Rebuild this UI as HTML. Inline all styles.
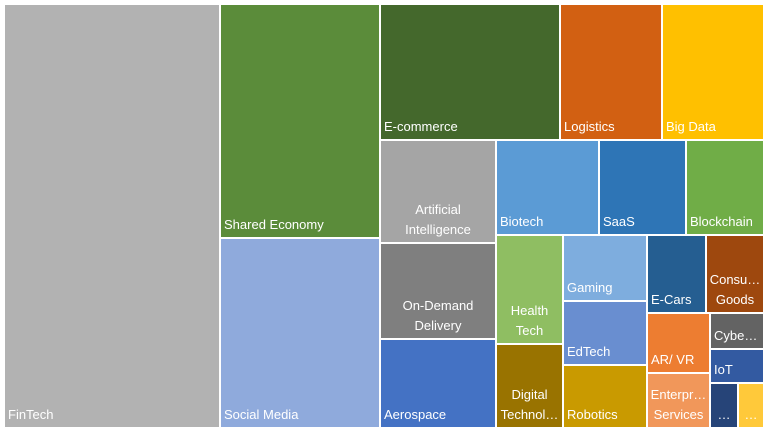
<!DOCTYPE html>
<html><head><meta charset="utf-8"><style>
body{margin:0;width:768px;height:432px;background:#fff;position:relative;overflow:hidden;font-family:"Liberation Sans","Noto Sans CJK JP",sans-serif}
.r{position:absolute;color:#fff;font-size:13px;box-sizing:border-box}
.l{position:absolute;left:3px;bottom:2px;line-height:20px;white-space:nowrap}
.c{position:absolute;left:0;right:0;bottom:2px;text-align:center;line-height:20px;white-space:nowrap}
</style></head><body>
<div class="r" style="left:5px;top:5px;width:214px;height:422px;background:#b2b2b2"><span class="l">FinTech</span></div>
<div class="r" style="left:221px;top:5px;width:158px;height:232px;background:#5b8c3a"><span class="l">Shared Economy</span></div>
<div class="r" style="left:221px;top:239px;width:158px;height:188px;background:#8faadc"><span class="l">Social Media</span></div>
<div class="r" style="left:381px;top:5px;width:178px;height:134px;background:#44682c"><span class="l">E-commerce</span></div>
<div class="r" style="left:561px;top:5px;width:100px;height:134px;background:#d26012"><span class="l">Logistics</span></div>
<div class="r" style="left:663px;top:5px;width:100px;height:134px;background:#ffc000"><span class="l">Big Data</span></div>
<div class="r" style="left:381px;top:141px;width:114px;height:101px;background:#a5a5a5"><span class="c">Artificial<br>Intelligence</span></div>
<div class="r" style="left:381px;top:244px;width:114px;height:94px;background:#7f7f7f"><span class="c">On-Demand<br>Delivery</span></div>
<div class="r" style="left:381px;top:340px;width:114px;height:87px;background:#4472c4"><span class="l">Aerospace</span></div>
<div class="r" style="left:497px;top:141px;width:101px;height:93px;background:#5b9bd5"><span class="l">Biotech</span></div>
<div class="r" style="left:600px;top:141px;width:85px;height:93px;background:#2e75b6"><span class="l">SaaS</span></div>
<div class="r" style="left:687px;top:141px;width:76px;height:93px;background:#70ad47"><span class="l">Blockchain</span></div>
<div class="r" style="left:497px;top:236px;width:65px;height:107px;background:#8fbe62"><span class="c">Health<br>Tech</span></div>
<div class="r" style="left:497px;top:345px;width:65px;height:82px;background:#997300"><span class="c">Digital<br>Technol…</span></div>
<div class="r" style="left:564px;top:236px;width:82px;height:64px;background:#7eadde"><span class="l">Gaming</span></div>
<div class="r" style="left:564px;top:302px;width:82px;height:62px;background:#698ed0"><span class="l">EdTech</span></div>
<div class="r" style="left:564px;top:366px;width:82px;height:61px;background:#c99a00"><span class="l">Robotics</span></div>
<div class="r" style="left:648px;top:236px;width:57px;height:76px;background:#255e91"><span class="l">E-Cars</span></div>
<div class="r" style="left:707px;top:236px;width:56px;height:76px;background:#9e480e"><span class="c">Consu…<br>Goods</span></div>
<div class="r" style="left:648px;top:314px;width:61px;height:58px;background:#ed7d31"><span class="l">AR/ VR</span></div>
<div class="r" style="left:648px;top:374px;width:61px;height:53px;background:#f1975a"><span class="c">Enterpr…<br>Services</span></div>
<div class="r" style="left:711px;top:314px;width:52px;height:34px;background:#636363"><span class="l">Cybe…</span></div>
<div class="r" style="left:711px;top:350px;width:52px;height:32px;background:#335aa1"><span class="l">IoT</span></div>
<div class="r" style="left:711px;top:384px;width:26px;height:43px;background:#264478"><span class="c">…</span></div>
<div class="r" style="left:739px;top:384px;width:24px;height:43px;background:#ffc93a"><span class="c">…</span></div>
</body></html>
